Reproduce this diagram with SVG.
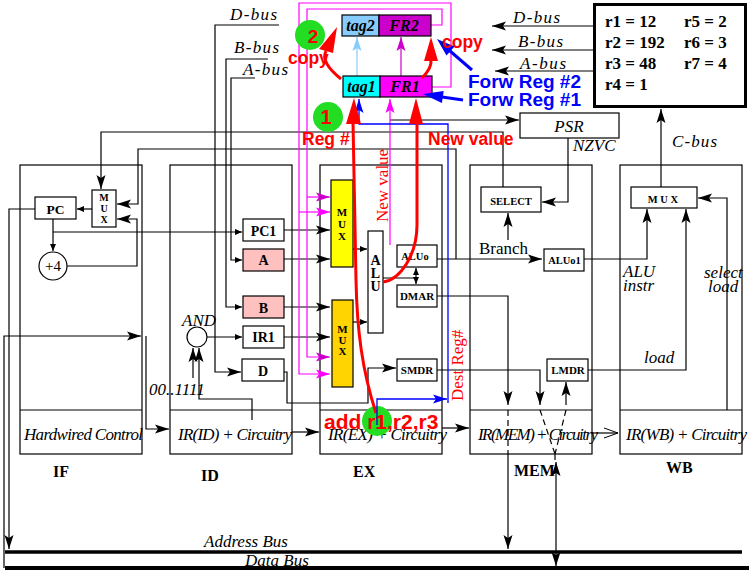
<svg xmlns="http://www.w3.org/2000/svg" width="749" height="571" viewBox="0 0 749 571">
<defs>
<style>
.l{fill:none;stroke:#000;stroke-width:1.2}
.bx{fill:#fff;stroke:#000;stroke-width:1.2}
.pk{fill:none;stroke:#f0f;stroke-width:1.2}
.bl{fill:none;stroke:#00f;stroke-width:1.3}
.rd{fill:none;stroke:#f00;stroke-width:3}
.dsh{stroke-dasharray:6 4}
.it{font-family:'Liberation Serif','DejaVu Serif',serif;font-style:italic;font-size:17px}
.ib{font-family:'Liberation Serif','DejaVu Serif',serif;font-style:italic;font-weight:bold;font-size:16px}
.bd{font-family:'Liberation Serif','DejaVu Serif',serif;font-weight:bold}
.sr{font-family:'Liberation Serif','DejaVu Serif',serif}
.rs{font-family:'Liberation Sans',Arial,sans-serif;font-weight:bold;fill:#f00}
.bs{font-family:'Liberation Sans',Arial,sans-serif;font-weight:bold;fill:#00f;font-size:19px}
.gc{fill:#22dd22}
.m{text-anchor:middle}
</style>
<marker id="ab" markerWidth="14" markerHeight="9" refX="14" refY="4.5" orient="auto" markerUnits="userSpaceOnUse" overflow="visible"><path d="M0,0 L14,4.5 L0,9 L3,4.5 z" fill="#000"/></marker>
<marker id="abr" markerWidth="14" markerHeight="9" refX="14" refY="4.5" orient="auto-start-reverse" markerUnits="userSpaceOnUse" overflow="visible"><path d="M0,0 L14,4.5 L0,9 L3,4.5 z" fill="#000"/></marker>
<marker id="as" markerWidth="7" markerHeight="6" refX="7" refY="3" orient="auto" markerUnits="userSpaceOnUse" overflow="visible"><path d="M0,0 L7,3 L0,6 z" fill="#000"/></marker>
<marker id="ao" markerWidth="14" markerHeight="10" refX="14" refY="5" orient="auto" markerUnits="userSpaceOnUse" overflow="visible"><path d="M0,0 L14,5 L0,10" fill="none" stroke="#000" stroke-width="1"/></marker>
<marker id="apk" markerWidth="14" markerHeight="9" refX="14" refY="4.5" orient="auto" markerUnits="userSpaceOnUse" overflow="visible"><path d="M0,0 L14,4.5 L0,9 L3,4.5 z" fill="#f0f"/></marker>
<marker id="adk" markerWidth="14" markerHeight="9" refX="14" refY="4.5" orient="auto" markerUnits="userSpaceOnUse" overflow="visible"><path d="M0,0 L14,4.5 L0,9 L3,4.5 z" fill="#c0c"/></marker>
<marker id="alb" markerWidth="14" markerHeight="9" refX="14" refY="4.5" orient="auto" markerUnits="userSpaceOnUse" overflow="visible"><path d="M0,0 L14,4.5 L0,9 L3,4.5 z" fill="#88ccff"/></marker>
<marker id="abl" markerWidth="14" markerHeight="9" refX="14" refY="4.5" orient="auto" markerUnits="userSpaceOnUse" overflow="visible"><path d="M0,0 L14,4.5 L0,9 L3,4.5 z" fill="#00f"/></marker>
</defs>
<rect width="749" height="571" fill="#fff"/>

<g id="stages">
<g id="stage-IF"><rect x="20" y="165" width="122" height="289" class="l"/><path d="M20,410 H142" class="l"/>
<text x="24" y="440" class="it" font-size="15.5" textLength="119">Hardwired Control</text>
<text x="53" y="477" class="bd" font-size="16">IF</text></g>
<g id="stage-ID"><rect x="170" y="165" width="122" height="289" class="l"/><path d="M170,410 H292" class="l"/>
<text x="178" y="440" class="it" font-size="15.5" textLength="114">IR(ID) + Circuitry</text>
<text x="201" y="481" class="bd" font-size="16">ID</text></g>
<g id="stage-EX"><rect x="320" y="165" width="122" height="289" class="l"/><path d="M320,410 H442" class="l"/>
<text x="328" y="440" class="it" font-size="15.5" textLength="119">IR(EX) + Circuitry</text>
<text x="353" y="477" class="bd" font-size="16">EX</text></g>
<g id="stage-MEM"><rect x="470" y="165" width="122" height="289" class="l"/><path d="M470,410 H592" class="l"/>
<text x="478" y="440" class="it" font-size="15.5" textLength="120">IR(MEM) + Circuitry</text>
<text x="514" y="476" class="bd" font-size="16">MEM</text></g>
<g id="stage-WB"><rect x="620" y="165" width="122" height="289" class="l"/><path d="M620,410 H742" class="l"/>
<text x="626" y="440" class="it" font-size="15.5" textLength="121">IR(WB) + Circuitry</text>
<text x="666" y="473" class="bd" font-size="16">WB</text></g>
</g>

<g id="buses">
<path d="M5,552 H742" stroke="#000" stroke-width="3.5"/>
<path d="M5,568 H749" stroke="#000" stroke-width="4"/>
<text x="204" y="547" class="it" font-size="16">Address Bus</text>
<text x="245" y="566" class="it" font-size="16">Data Bus</text>
</g>

<g id="connectors">
<path d="M279,25 H215 V372 H241" class="l" marker-end="url(#ab)"/>
<path d="M268,59 H226 V307 H242" class="l" marker-end="url(#as)"/>
<path d="M255,78 H231 V260 H242" class="l" marker-end="url(#as)"/>
<path d="M503,187 V132 H101 V189" class="l" marker-end="url(#ab)"/>
<path d="M456,259 V149 H138 V204 H117" class="l" marker-end="url(#ab)"/>
<path d="M67,266 H137 V219 H117" class="l" marker-end="url(#ab)"/>
<path d="M92,209 H77" class="l" marker-end="url(#as)"/>
<path d="M53,219 V251" class="l" marker-end="url(#as)"/>
<path d="M53,232 H242" class="l" marker-end="url(#as)"/>
<path d="M35,209 H9 V549" class="l" marker-end="url(#ab)"/>
<path d="M4,568 V336 H141" class="l" marker-end="url(#ab)"/>
<path d="M146,336 V429 H169" class="l" marker-end="url(#ab)"/>
<path d="M207,337 H242" class="l" marker-end="url(#as)"/>
<path d="M193,378 V348" class="l" marker-end="url(#ab)"/>
<path d="M252,420 V399 H199 V348" class="l" marker-end="url(#ab)"/>
<path d="M284,230 H330" class="l" marker-end="url(#ab)"/>
<path d="M284,259 H330" class="l" marker-end="url(#ab)"/>
<path d="M284,307 H330" class="l" marker-end="url(#ab)"/>
<path d="M284,337 H330" class="l" marker-end="url(#ab)"/>
<path d="M353,249 H367" class="l" marker-end="url(#as)"/>
<path d="M353,322 H367" class="l" marker-end="url(#as)"/>
<path d="M383,278 H416" class="l"/>
<path d="M416,278 V268" class="l" marker-end="url(#as)"/>
<path d="M416,278 V284" class="l" marker-end="url(#as)"/>
<path d="M437,259 H542" class="l" marker-end="url(#ab)"/>
<path d="M437,296 H508 V405" class="l" marker-end="url(#ab)"/>
<path d="M508,410 V454" class="l dsh"/>
<path d="M508,454 V549" class="l" marker-end="url(#ab)"/>
<path d="M284,372 H287 V403 H368 V368 H396" class="l" marker-end="url(#ab)"/>
<path d="M437,370 H540 V405" class="l" marker-end="url(#ab)"/>
<path d="M540,410 L555,454 M566,410 L555,454 M555,454 V462" class="l dsh"/>
<path d="M556,462 V566" class="l" marker-start="url(#abr)" marker-end="url(#abr)"/>
<path d="M566,405 V382" class="l" marker-end="url(#ab)"/>
<path d="M588,370 H686 V209" class="l" marker-end="url(#ab)"/>
<path d="M584,259 H647 V209" class="l" marker-end="url(#ab)"/>
<path d="M727,410 V198 H698" class="l" marker-end="url(#ab)"/>
<path d="M661,187 V109" class="l" marker-end="url(#ab)"/>
<path d="M568,138 V202 H542" class="l" marker-end="url(#ab)"/>
<path d="M508,240 V213" class="l" marker-end="url(#ab)"/>
<path d="M390,120 H519" class="l" marker-end="url(#ab)"/>
<path d="M593,26 H492" class="l" marker-end="url(#ab)"/>
<path d="M593,50 H492" class="l" marker-end="url(#ab)"/>
<path d="M593,71 H495" class="l" marker-end="url(#ab)"/>
<path d="M292,432 H319" class="l" marker-end="url(#ab)"/>
<path d="M442,428 H469" class="l" marker-end="url(#ab)"/>
<path d="M592,433 H618" class="l" marker-end="url(#ao)"/>
<path d="M431,87 H451 V3 H299 V374 H330" class="pk" marker-end="url(#apk)"/>
<path d="M299,212 H330" class="pk" marker-end="url(#apk)"/>
<path d="M431,25 H442 V9 H307 V357 H330" class="pk" marker-end="url(#adk)"/>
<path d="M307,197 H330" class="pk" marker-end="url(#adk)"/>
<path d="M390,245 V99" class="pk" marker-end="url(#apk)"/>
<path d="M401,76 V37" fill="none" stroke="#c0c" stroke-width="1.2" marker-end="url(#adk)"/>
<path d="M357,76 V37" fill="none" stroke="#88ccff" stroke-width="1.2" marker-end="url(#alb)"/>
<path d="M448,403 V124 H359 V99" class="bl" marker-end="url(#abl)"/>
</g>

<g id="bus-labels">
<text x="230" y="20" class="it" textLength="47">D-bus</text>
<text x="234" y="53" class="it" textLength="45">B-bus</text>
<text x="243" y="75" class="it" textLength="45">A-bus</text>
<text x="513" y="23" class="it" textLength="47">D-bus</text>
<text x="518" y="47" class="it" textLength="45">B-bus</text>
<text x="520" y="69" class="it" textLength="46">A-bus</text>
<text x="672" y="147" class="it" textLength="45">C-bus</text>
<text x="573" y="151" class="it" font-size="14">NZVC</text>
<text x="479" y="254" class="sr" font-size="17">Branch</text>
<text x="623" y="277" class="it" font-size="14.5">ALU</text>
<text x="623" y="291" class="it" font-size="14.5">instr</text>
<text x="704" y="278" class="it" font-size="14.5">select</text>
<text x="708" y="292" class="it" font-size="14.5">load</text>
<text x="644" y="363" class="it">load</text>
<text x="149" y="395" class="it" font-size="16">00..1111</text>
</g>

<g id="pcmux"><rect x="92" y="190" width="24" height="37" class="bx"/>
<text x="104" y="201" class="bd m" font-size="10">M</text><text x="104" y="212" class="bd m" font-size="10">U</text><text x="104" y="223" class="bd m" font-size="10">X</text></g>
<g id="pc"><rect x="35" y="197" width="41" height="22" class="bx"/><text x="55.5" y="214" class="bd m" font-size="13.5">PC</text></g>
<g id="plus4"><circle cx="53" cy="266" r="14" class="bx"/><text x="53" y="271" class="sr m" font-size="15">+4</text></g>
<g id="pc1"><rect x="243" y="219" width="41" height="22" class="bx"/><text x="263.5" y="236" class="bd m" font-size="14">PC1</text></g>
<g id="regA"><rect x="243" y="249" width="41" height="22" fill="#ffc0c0" stroke="#000" stroke-width="1.2"/><text x="263.5" y="265" class="bd m" font-size="14">A</text></g>
<g id="regB"><rect x="243" y="296" width="41" height="22" fill="#ffc0c0" stroke="#000" stroke-width="1.2"/><text x="263.5" y="313" class="bd m" font-size="14">B</text></g>
<g id="ir1"><rect x="243" y="326" width="41" height="22" class="bx"/><text x="263.5" y="342" class="bd m" font-size="14">IR1</text></g>
<g id="regD"><rect x="242" y="359" width="42" height="22" class="bx"/><text x="263" y="376" class="bd m" font-size="14">D</text></g>
<g id="and"><circle cx="197" cy="337" r="10" class="bx"/><text x="182" y="326" class="it" font-size="14">AND</text></g>
<g id="mux-yellow"><rect x="331" y="180" width="22" height="87" fill="#ffff00" stroke="#000" stroke-width="1.2"/>
<text x="342" y="216" class="bd m" font-size="11">M</text><text x="342" y="228" class="bd m" font-size="11">U</text><text x="342" y="240" class="bd m" font-size="11">X</text></g>
<g id="mux-orange"><rect x="332" y="300" width="21" height="87" fill="#ffd400" stroke="#000" stroke-width="1.2"/>
<text x="342.5" y="333" class="bd m" font-size="11">M</text><text x="342.5" y="344" class="bd m" font-size="11">U</text><text x="342.5" y="355" class="bd m" font-size="11">X</text></g>
<g id="alu"><rect x="368" y="231" width="15" height="102" class="bx"/>
<text x="375.5" y="265" class="bd m" font-size="14">A</text><text x="375.5" y="278" class="bd m" font-size="14">L</text><text x="375.5" y="291" class="bd m" font-size="14">U</text></g>
<g id="aluo"><rect x="397" y="245" width="40" height="22" class="bx"/><text x="415" y="260" class="bd m" font-size="10.5">ALUo</text></g>
<g id="dmar"><rect x="397" y="285" width="40" height="22" class="bx"/><text x="417" y="300" class="bd m" font-size="11">DMAR</text></g>
<g id="smdr"><rect x="397" y="359" width="40" height="22" class="bx"/><text x="417" y="374" class="bd m" font-size="11">SMDR</text></g>
<g id="select"><rect x="481" y="187" width="60" height="25" class="bx"/><text x="511" y="205" class="bd m" font-size="10.5">SELECT</text></g>
<g id="aluo1"><rect x="544" y="249" width="40" height="22" class="bx"/><text x="564.5" y="264" class="bd m" font-size="10.5">ALUo1</text></g>
<g id="lmdr"><rect x="547" y="359" width="41" height="22" class="bx"/><text x="568" y="374" class="bd m" font-size="11">LMDR</text></g>
<g id="wbmux"><rect x="631" y="187" width="66" height="21" class="bx"/><text x="663" y="203" class="bd m" font-size="10.5">M U X</text></g>
<g id="psr"><rect x="520" y="113" width="99" height="25" class="bx"/><text x="569" y="132" class="it m" font-size="18">PSR</text></g>
<g id="regfile"><rect x="594.5" y="4.5" width="151" height="102" fill="#fff" stroke="#000" stroke-width="3"/>
<text x="605" y="27" class="bd" font-size="17">r1 = 12</text>
<text x="605" y="48" class="bd" font-size="17">r2 = 192</text>
<text x="605" y="69" class="bd" font-size="17">r3 = 48</text>
<text x="605" y="90" class="bd" font-size="17">r4 = 1</text>
<text x="684" y="27" class="bd" font-size="17">r5 = 2</text>
<text x="684" y="48" class="bd" font-size="17">r6 = 3</text>
<text x="684" y="69" class="bd" font-size="17">r7 = 4</text></g>
<g id="tag2"><rect x="342" y="15" width="37" height="21" fill="#88ccff" stroke="#000" stroke-width="1.2"/><text x="360.5" y="31" class="ib m">tag2</text></g>
<g id="fr2"><rect x="379" y="15" width="52" height="21" fill="#cc00cc" stroke="#000" stroke-width="1.2"/><text x="404" y="31" class="ib m">FR2</text></g>
<g id="tag1"><rect x="343" y="76" width="37" height="21" fill="#00ffff" stroke="#000" stroke-width="1.2"/><text x="361.5" y="92" class="ib m">tag1</text></g>
<g id="fr1"><rect x="380" y="76" width="52" height="21" fill="#ff00ff" stroke="#000" stroke-width="1.2"/><text x="405" y="92" class="ib m">FR1</text></g>

<g id="annotations">
<circle cx="310" cy="35" r="15" class="gc"/>
<circle cx="328" cy="117" r="15" class="gc"/>
<circle cx="377" cy="421" r="15" class="gc"/>
<text x="313" y="43" class="rs m" font-size="19">2</text>
<text x="326" y="124" class="rs m" font-size="20">1</text>
<path d="M376,413 C362,370 357,330 356,280 L353,122" class="rd"/>
<polygon points="346,124 354,98 361,124" fill="#f00"/>
<path d="M383,282 C400,280 417,255 417,225 L417,122" class="rd"/>
<polygon points="409,124 416,98 423,124" fill="#f00"/>
<path d="M341,79 Q320,62 326,51" class="rd"/>
<polygon points="319,49 337,27 333,53" fill="#f00"/>
<path d="M422,78 Q432,68 431,60" class="rd"/>
<polygon points="424,61 431,37 438,61" fill="#f00"/>
<path d="M472,70 L450,51" fill="none" stroke="#00f" stroke-width="3"/>
<polygon points="454.5,46.4 437,39 446.5,55.4" fill="#00f"/>
<path d="M463,100 L442,97" fill="none" stroke="#00f" stroke-width="3"/>
<polygon points="443.7,91.1 423,94 441.9,102.9" fill="#00f"/>
<path d="M377,425 V399 H447" class="bl" marker-end="url(#abl)"/>
<text x="288" y="64" class="rs" font-size="17.5">copy</text>
<text x="442" y="48" class="rs" font-size="17.5">copy</text>
<text x="302" y="145" class="rs" font-size="17.5">Reg #</text>
<text x="428" y="145" class="rs" font-size="17.5">New value</text>
<text x="468" y="88" class="bs">Forw Reg #2</text>
<text x="468" y="106" class="bs">Forw Reg #1</text>
<text transform="translate(388,222) rotate(-90)" class="sr" font-size="17" fill="#f00">New value</text>
<text transform="translate(463,401) rotate(-90)" class="sr" font-size="17" fill="#f00">Dest Reg#</text>
<text x="324" y="429" class="rs" font-size="21">add r1,r2,r3</text>
</g>
</svg>
